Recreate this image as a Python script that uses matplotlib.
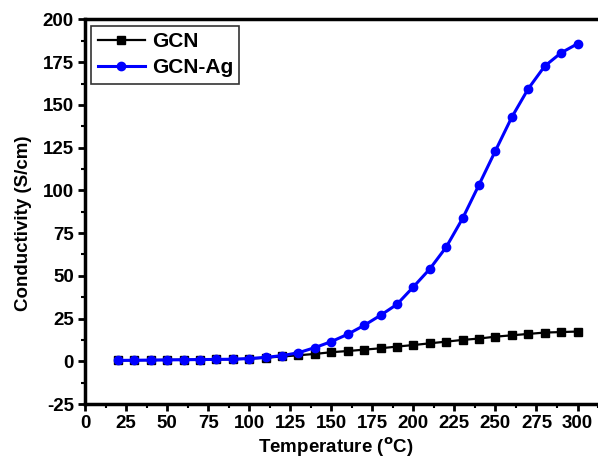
import matplotlib
matplotlib.use("Agg")
import matplotlib.pyplot as plt
from matplotlib.ticker import MultipleLocator

temperature = [20, 30, 40, 50, 60, 70, 80, 90, 100, 110, 120, 130, 140, 150, 160, 170, 180,
               190, 200, 210, 220, 230, 240, 250, 260, 270, 280, 290, 300]
gcn = [0.5, 0.6, 0.7, 0.8, 0.9, 1.0, 1.1, 1.2, 1.5, 2.1, 2.8, 3.5, 4.3, 5.3, 6.0, 6.8, 7.6,
       8.6, 9.5, 10.5, 11.5, 12.5, 13.3, 14.4, 15.2, 16.0, 16.8, 17.1, 17.4]
gcn_ag = [0.5, 0.6, 0.7, 0.8, 0.9, 1.0, 1.1, 1.2, 1.6, 2.3, 3.3, 5.0, 8.0, 11.5, 15.8, 21.0, 26.9,
          33.3, 43.5, 54.0, 66.8, 83.6, 103.3, 123.2, 142.9, 159.5, 172.7, 180.5, 185.8]

plt.rcParams['font.family'] = ['Liberation Sans', 'DejaVu Sans']
plt.rcParams['font.weight'] = 'bold'
plt.rcParams['mathtext.default'] = 'bf'
plt.rcParams['axes.unicode_minus'] = False

fig = plt.figure(figsize=(5.98, 4.61), dpi=100)
W, H = 598, 461
left, right, bottom, top = 85, 612, 404, 19.5
ax = fig.add_axes([left / W, (H - bottom) / H, (right - left) / W, (bottom - top) / H])

ax.plot(temperature, gcn, color='black', lw=1.6, marker='s', ms=5.3, label='GCN', zorder=3)
ax.plot(temperature, gcn_ag, color='#0000ff', lw=2.2, marker='o', ms=6, label='GCN-Ag', zorder=4)

ax.set_xlim(0, 321)
ax.set_ylim(-25, 200)
ax.xaxis.set_major_locator(MultipleLocator(25))
ax.xaxis.set_minor_locator(MultipleLocator(12.5))
ax.yaxis.set_major_locator(MultipleLocator(25))
ax.yaxis.set_minor_locator(MultipleLocator(12.5))
ax.tick_params(which='major', direction='out', length=5, width=2, labelsize=13.5, pad=3)
ax.tick_params(which='minor', direction='out', length=3, width=1.5)
for lab in ax.get_xticklabels() + ax.get_yticklabels():
    lab.set_fontweight('bold')
for s in ['left', 'bottom', 'top', 'right']:
    ax.spines[s].set_linewidth(2.5)

ax.set_xlabel('Temperature ($^{\\mathrm{o}}$C)', fontsize=13.5, fontweight='bold')
ax.set_ylabel('Conductivity (S/cm)', fontsize=13.5, fontweight='bold')
ax.xaxis.set_label_coords((336 - left) / (right - left), -0.082)
ax.yaxis.set_label_coords((32 - left) / (right - left), 0.47)

leg = ax.legend(loc='upper left', fontsize=15, frameon=True, fancybox=False,
                edgecolor='black', borderaxespad=0.3, handlelength=2.3,
                handletextpad=0.3, borderpad=0.3, labelspacing=0.35)
leg.get_frame().set_linewidth(1.2)
for t in leg.get_texts():
    t.set_fontweight('bold')

fig.savefig('out.png', dpi=100)
